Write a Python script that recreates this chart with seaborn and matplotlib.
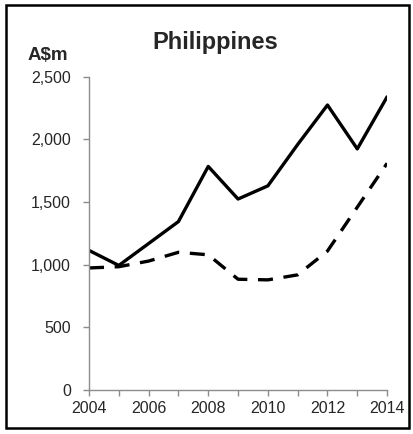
import numpy as np
import pandas as pd
import matplotlib
matplotlib.use("Agg")
import matplotlib.pyplot as plt
import seaborn as sns
from matplotlib.patches import Rectangle

# данные (A$m)
years = list(range(2004, 2015))
solid_vals = [1115, 995, 1170, 1345, 1785, 1525, 1630, 1960, 2275, 1925, 2340]
dashed_vals = [975, 985, 1030, 1100, 1080, 885, 880, 920, 1110, 1460, 1810]
y_ticks = [0, 500, 1000, 1500, 2000, 2500]
x_ticks = [2004, 2006, 2008, 2010, 2012, 2014]

df = pd.DataFrame({"year": years, "solid": solid_vals, "dashed": dashed_vals})

sns.set_theme(style="white")
plt.rcParams["font.family"] = ["Liberation Sans", "DejaVu Sans"]

fig = plt.figure(figsize=(4.14, 4.34), dpi=100)
ax = fig.add_axes([0.215, 0.101, 0.72, 0.722])

sns.lineplot(data=df, x="year", y="solid", ax=ax, color="black", lw=2.4)
sns.lineplot(data=df, x="year", y="dashed", ax=ax, color="black", lw=2.4,
             dashes=False, linestyle=(0, (4.5, 3.2)))

ax.set_xlim(2004, 2014)
ax.set_ylim(0, 2500)
ax.set_yticks(y_ticks)
ax.set_yticklabels([f"{v:,}" for v in y_ticks])
ax.set_xticks(x_ticks)
ax.set_xticks(years, minor=True)
ax.set_xlabel("")
ax.set_ylabel("")

for side in ["top", "right"]:
    ax.spines[side].set_visible(False)
for side in ["left", "bottom"]:
    ax.spines[side].set_color("#8c8c8c")
    ax.spines[side].set_linewidth(1.0)

ax.tick_params(axis="y", which="major", direction="out", length=4, width=1,
               color="#8c8c8c", labelsize=11.5, pad=9, left=True)
ax.tick_params(axis="x", which="both", direction="out", length=4, width=1,
               color="#8c8c8c", labelsize=11.5, pad=4, bottom=True)

fig.text(0.52, 0.903, "Philippines", ha="center", va="center",
         fontsize=17, fontweight="bold")
fig.text(0.116, 0.873, "A$m", ha="center", va="center",
         fontsize=13.5, fontweight="bold")

# рамка вокруг всего графика
fig.patches.append(Rectangle((6 / 414, 1 - 428 / 434), 403 / 414, 423 / 434,
                             transform=fig.transFigure, fill=False,
                             edgecolor="black", linewidth=1.8))

fig.savefig("out.png", dpi=100)
